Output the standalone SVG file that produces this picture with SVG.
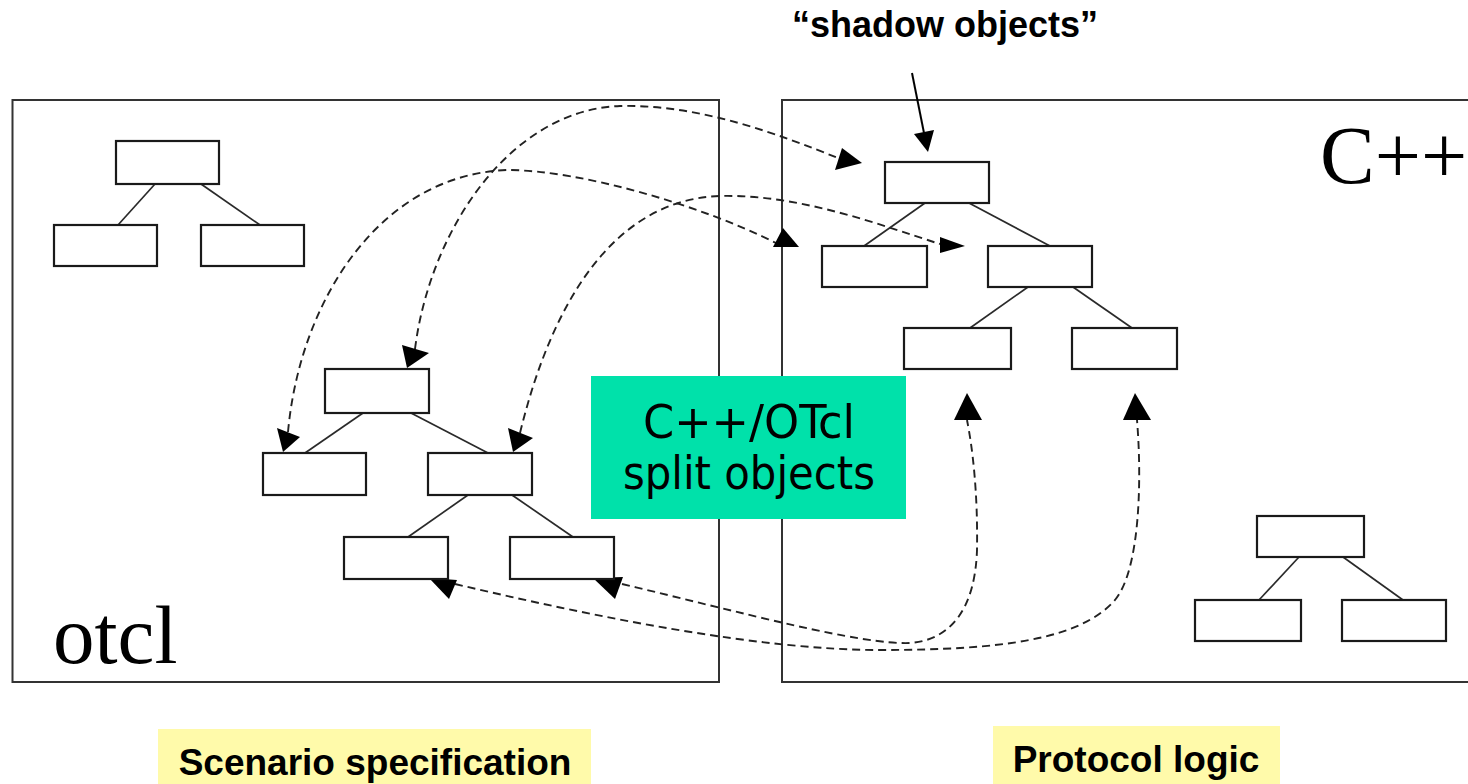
<svg xmlns="http://www.w3.org/2000/svg" width="1468" height="784" viewBox="0 0 1468 784">
<style>
.panel{fill:none;stroke:#333;stroke-width:2}
.box{fill:#fff;stroke:#1a1a1a;stroke-width:2.2}
.edge{stroke:#2a2a2a;stroke-width:1.7;fill:none}
.dash{fill:none;stroke:#222;stroke-width:1.9;stroke-dasharray:8 5}
.head{fill:#000;stroke:none}
.serif{font-family:"Liberation Serif","Times New Roman",serif;fill:#000}
.bold{font-family:"Liberation Sans",Arial,sans-serif;font-weight:bold;fill:#000}
.green{font-family:"DejaVu Sans Condensed","DejaVu Sans",sans-serif;font-size:47px;fill:#000}
</style>
<rect width="1468" height="784" fill="#fff"/>
<g id="panels">
<rect class="panel" x="12.5" y="100" width="706.5" height="582"/>
<rect class="panel" x="782" y="100" width="700" height="582"/>
<text class="serif" x="53" y="663" font-size="83">otcl</text>
<text class="serif" x="1320" y="183" font-size="82">C++</text>
</g>
<g id="connectors">
<path class="dash" d="M415,349 C430,230 510,110 620,106 C700,104 780,135 838,158"/>
<polygon class="head" points="835,170 842,148 862,163"/>
<polygon class="head" points="402,345 429,353 407,368"/>
<path class="dash" d="M288,432 C300,300 380,175 507,170 C580,170 700,205 776,243"/>
<polygon class="head" points="277,428 300,437 283,452"/>
<polygon class="head" points="773,247 783,228 799,247"/>
<path class="dash" d="M520,433 C545,330 600,200 720,196 C800,194 880,225 940,244"/>
<polygon class="head" points="508,428 533,438 513,452"/>
<polygon class="head" points="940,237 965,246 940,253"/>
<path class="dash" d="M455,584 C600,618 760,650 880,650 C1000,650 1080,640 1115,600 C1140,570 1142,480 1137,420"/>
<polygon class="head" points="429,578 457,580 449,599"/>
<polygon class="head" points="1123,420 1135,393 1151,420"/>
<path class="dash" d="M622,584 C740,612 860,645 910,643 C950,640 975,610 977,550 C978,490 972,445 967,420"/>
<polygon class="head" points="593,578 623,577 615,599"/>
<polygon class="head" points="954,420 967,393 982,420"/>
<line x1="912" y1="73" x2="925" y2="138" stroke="#000" stroke-width="2"/>
<polygon class="head" points="914,134 934,130 928,152"/>
</g>
<g id="tree-topleft">
<line class="edge" x1="155" y1="184" x2="118" y2="225"/>
<line class="edge" x1="201" y1="184" x2="260" y2="225"/>
<rect class="box" x="116" y="141" width="103" height="43"/>
<rect class="box" x="54" y="225" width="103" height="41"/>
<rect class="box" x="201" y="225" width="103" height="41"/>
</g>
<g id="tree-otcl">
<line class="edge" x1="363" y1="413" x2="305" y2="453"/>
<line class="edge" x1="411" y1="413" x2="488" y2="453"/>
<line class="edge" x1="468" y1="495" x2="408" y2="537"/>
<line class="edge" x1="512" y1="495" x2="573" y2="537"/>
<rect class="box" x="325" y="369" width="104" height="44"/>
<rect class="box" x="263" y="453" width="103" height="42"/>
<rect class="box" x="428" y="453" width="104" height="42"/>
<rect class="box" x="344" y="537" width="104" height="42"/>
<rect class="box" x="510" y="537" width="104" height="42"/>
</g>
<g id="tree-cpp">
<line class="edge" x1="925" y1="203" x2="864" y2="246"/>
<line class="edge" x1="969" y1="203" x2="1050" y2="246"/>
<line class="edge" x1="1028" y1="287" x2="970" y2="328"/>
<line class="edge" x1="1073" y1="287" x2="1132" y2="328"/>
<rect class="box" x="885" y="162" width="104" height="41"/>
<rect class="box" x="822" y="246" width="105" height="41"/>
<rect class="box" x="988" y="246" width="104" height="41"/>
<rect class="box" x="904" y="328" width="107" height="41"/>
<rect class="box" x="1072" y="328" width="105" height="41"/>
</g>
<g id="tree-bottomright">
<line class="edge" x1="1299" y1="557" x2="1259" y2="600"/>
<line class="edge" x1="1343" y1="557" x2="1403" y2="600"/>
<rect class="box" x="1257" y="516" width="107" height="41"/>
<rect class="box" x="1195" y="600" width="106" height="41"/>
<rect class="box" x="1342" y="600" width="104" height="41"/>
</g>
<g id="split-objects">
<rect x="591" y="376" width="315" height="143" fill="#00E1AA"/>
<text class="green" x="643" y="438" textLength="212" lengthAdjust="spacingAndGlyphs">C++/OTcl</text>
<text class="green" x="623" y="489" textLength="252" lengthAdjust="spacingAndGlyphs">split objects</text>
</g>
<g id="shadow-label">
<text class="bold" x="945" y="37" font-size="36" text-anchor="middle">“shadow objects”</text>
</g>
<g id="scenario-label">
<rect x="158" y="729" width="433" height="55" fill="#FFFAAA"/>
<text class="bold" x="375" y="775" font-size="37" text-anchor="middle">Scenario specification</text>
</g>
<g id="protocol-label">
<rect x="993" y="726" width="287" height="58" fill="#FFFAAA"/>
<text class="bold" x="1136" y="772" font-size="37" text-anchor="middle">Protocol logic</text>
</g>
</svg>
